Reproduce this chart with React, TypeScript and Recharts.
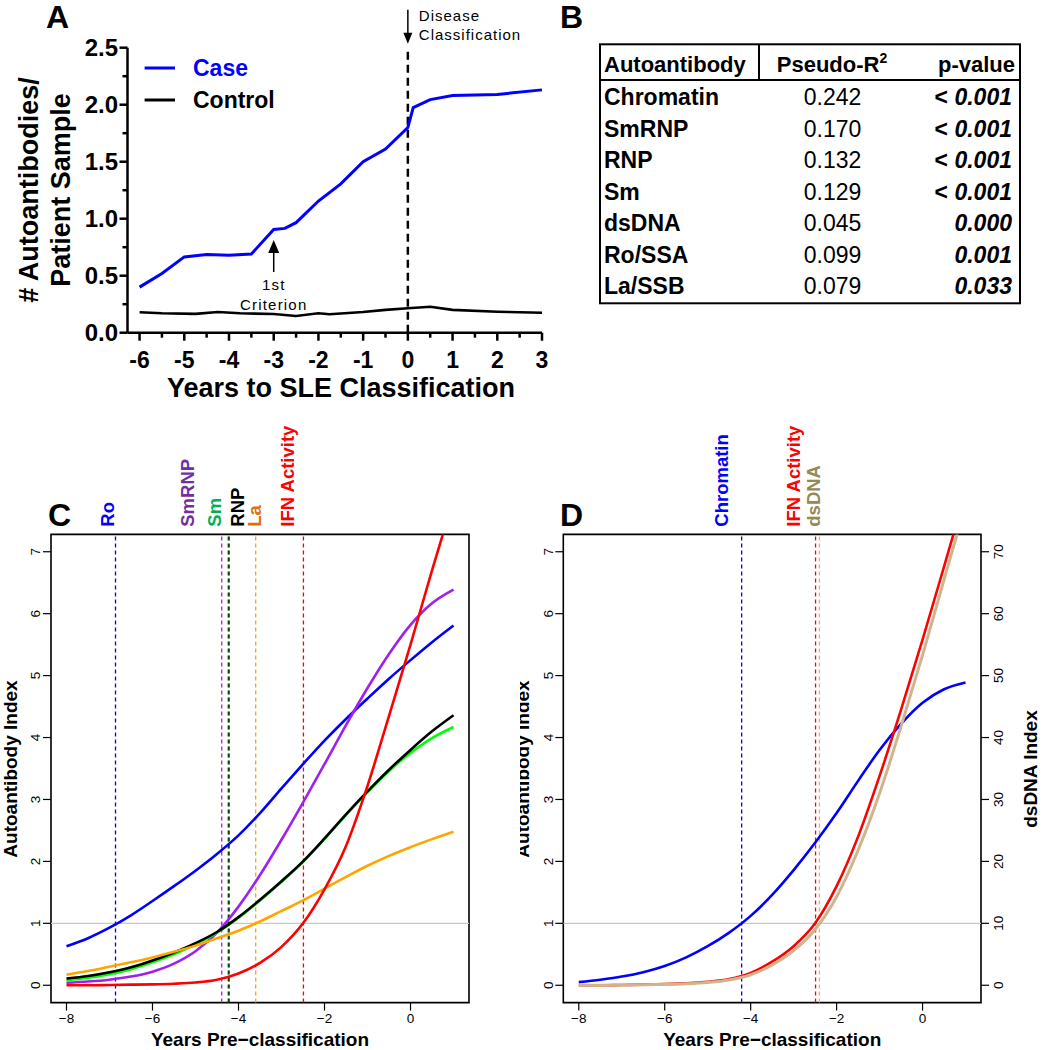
import React from "react";
import {
  LineChart,
  Line,
  XAxis,
  YAxis,
  ReferenceLine,
  ReferenceDot,
  ReferenceArea,
  Legend,
} from "recharts";

const FONT = "'Liberation Sans', Arial, Helvetica, sans-serif";

// ---- Panel A: autoantibodies per patient sample
const CASE_YEARS = [-6, -5.5, -5, -4.5, -4, -3.5, -3, -2.75, -2.5, -2, -1.5, -1, -0.5, 0, 0.12, 0.5, 1, 2, 3];
const CASE_COUNTS = [0.4, 0.52, 0.665, 0.685, 0.68, 0.69, 0.905, 0.915, 0.965, 1.155, 1.305, 1.5, 1.61, 1.8, 1.975, 2.045, 2.08, 2.09, 2.13];
const CONTROL_YEARS = [-6, -5.5, -4.75, -4.25, -3.75, -3, -2.5, -2, -1.75, -1, -0.5, 0, 0.5, 1, 2, 3];
const CONTROL_COUNTS = [0.18, 0.17, 0.165, 0.182, 0.17, 0.164, 0.146, 0.17, 0.162, 0.182, 0.2, 0.214, 0.228, 0.2, 0.184, 0.175];
const A_X_TICKS = [-6, -5.5, -5, -4.5, -4, -3.5, -3, -2.5, -2, -1.5, -1, -0.5, 0, 0.5, 1, 1.5, 2, 2.5, 3];
const A_Y_TICKS = [0, 0.25, 0.5, 0.75, 1, 1.25, 1.5, 1.75, 2, 2.25, 2.5];

// ---- Panel B: table
const TABLE_ANTIBODIES = ["Chromatin", "SmRNP", "RNP", "Sm", "dsDNA", "Ro/SSA", "La/SSB"];
const TABLE_PSEUDO_R2 = ["0.242", "0.170", "0.132", "0.129", "0.045", "0.099", "0.079"];
const TABLE_P_VALUES = ["< 0.001", "< 0.001", "< 0.001", "< 0.001", "0.000", "0.001", "0.033"];

// ---- Panels C and D: fitted curves
const FIT_YEARS = [-8, -7.5, -7, -6.5, -6, -5.5, -5, -4.5, -4, -3.5, -3, -2.5, -2, -1.5, -1, -0.5, 0, 0.5, 1];
const RO_C = [0.63, 0.76, 0.93, 1.13, 1.36, 1.6, 1.85, 2.12, 2.42, 2.78, 3.18, 3.57, 3.95, 4.3, 4.63, 4.95, 5.25, 5.54, 5.81];
const SMRNP_C = [0.04, 0.06, 0.09, 0.14, 0.22, 0.35, 0.55, 0.85, 1.27, 1.78, 2.35, 2.95, 3.57, 4.2, 4.8, 5.35, 5.82, 6.17, 6.39];
const SM_C = [0.08, 0.12, 0.18, 0.26, 0.37, 0.5, 0.66, 0.85, 1.09, 1.37, 1.67, 1.99, 2.36, 2.75, 3.12, 3.46, 3.75, 3.99, 4.17];
const RNP_C = [0.11, 0.15, 0.21, 0.29, 0.4, 0.53, 0.68, 0.86, 1.1, 1.38, 1.68, 2.0, 2.37, 2.76, 3.13, 3.48, 3.8, 4.1, 4.36];
const LA_C = [0.17, 0.23, 0.3, 0.37, 0.45, 0.54, 0.64, 0.76, 0.88, 1.03, 1.2, 1.37, 1.56, 1.75, 1.93, 2.09, 2.23, 2.36, 2.48];
const IFN_C = [0, 0, 0.005, 0.01, 0.015, 0.025, 0.045, 0.09, 0.19, 0.36, 0.62, 1.0, 1.55, 2.25, 3.22, 4.35, 5.5, 6.7, 7.85];

const CHROMATIN_D = [0.05, 0.09, 0.14, 0.21, 0.31, 0.45, 0.63, 0.85, 1.12, 1.46, 1.86, 2.3, 2.78, 3.3, 3.8, 4.22, 4.56, 4.78, 4.89];
const IFN_D = [0, 0, 0.005, 0.01, 0.02, 0.03, 0.055, 0.1, 0.2, 0.38, 0.63, 1.0, 1.6, 2.4, 3.38, 4.45, 5.58, 6.76, 7.95];
const DSDNA_D = [0, 0, 0.03, 0.08, 0.15, 0.25, 0.45, 0.85, 1.7, 3.3, 5.6, 9.0, 14.3, 21.8, 31.0, 41.8, 53.3, 65.5, 77.6];

const CD_X_TICKS = [-8, -6, -4, -2, 0];
const CD_Y_TICKS = [0, 1, 2, 3, 4, 5, 6, 7];
const DSDNA_TICKS = [0, 10, 20, 30, 40, 50, 60, 70];

// threshold crossings (dashed lines) and their labels on top
const C_MARKERS = ["Ro", "SmRNP", "Sm", "RNP", "La", "IFN Activity"];
const C_MARKER_LABEL_X = [-7.06, -5.2, -4.56, -4.03, -3.64, -2.86];
const C_MARKER_LINE_X = [-6.86, -4.39, -4.24, -4.22, -3.6, -2.49];
const C_MARKER_TEXT_COLORS = ["#0000FF", "#7030A0", "#00B050", "#000000", "#E46C0A", "#FF0000"];
const C_MARKER_LINE_COLORS = ["#0000FF", "#A020F0", "#00A000", "#000000", "#FFA500", "#FF0000"];

const D_MARKERS = ["Chromatin", "IFN Activity", "dsDNA"];
const D_MARKER_LABEL_X = [-4.68, -3.0, -2.54];
const D_MARKER_LINE_X = [-4.21, -2.49, -2.4];
const D_MARKER_TEXT_COLORS = ["#0000FF", "#FF0000", "#948A54"];
const D_MARKER_LINE_COLORS = ["#0000FF", "#FF0000", "#D2B48C"];

const CD_X_DOMAIN: [number, number] = [-8.36, 1.36];
const CD_Y_DOMAIN: [number, number] = [-0.28, 7.28];
const DSDNA_DOMAIN: [number, number] = [-2.8, 72.8];

const caseData = CASE_YEARS.map((x, i) => ({ x, y: CASE_COUNTS[i] }));
const controlData = CONTROL_YEARS.map((x, i) => ({ x, y: CONTROL_COUNTS[i] }));

const cData = FIT_YEARS.map((x, i) => ({
  x,
  ro: RO_C[i],
  smrnp: SMRNP_C[i],
  sm: SM_C[i],
  rnp: RNP_C[i],
  la: LA_C[i],
  ifn: IFN_C[i],
}));

const dData = FIT_YEARS.map((x, i) => ({
  x,
  chromatin: CHROMATIN_D[i],
  ifn: IFN_D[i],
  dsdna: DSDNA_D[i],
}));

// ---------- panel A helpers
const A_AXIS_X = 127.5;
const A_AXIS_Y = 332.7;

function ATickX(props: any) {
  const { x, payload } = props;
  const v = payload.value as number;
  const major = Number.isInteger(v);
  return (
    <g>
      <line x1={x} x2={x} y1={A_AXIS_Y} y2={A_AXIS_Y + (major ? 8 : 5)} stroke="#000" strokeWidth={2.5} />
      {major && (
        <text x={x} y={A_AXIS_Y + 35.5} textAnchor="middle" fontFamily={FONT} fontWeight="bold" fontSize={23} fill="#000">
          {v}
        </text>
      )}
    </g>
  );
}

function ATickY(props: any) {
  const { y, payload } = props;
  const v = payload.value as number;
  const major = Math.abs(v * 2 - Math.round(v * 2)) < 1e-6;
  return (
    <g>
      <line x1={A_AXIS_X - (major ? 8 : 5)} x2={A_AXIS_X} y1={y} y2={y} stroke="#000" strokeWidth={2.5} />
      {major && (
        <text x={A_AXIS_X - 9.5} y={y + 8.5} textAnchor="end" fontFamily={FONT} fontWeight="bold" fontSize={24} fill="#000">
          {v.toFixed(1)}
        </text>
      )}
    </g>
  );
}

function ALegend(props: any) {
  const items = props.payload || [];
  return (
    <svg width={170} height={70} style={{ display: "block" }}>
      {items.map((it: any, i: number) => (
        <g key={it.value}>
          <line x1={4.6} x2={35} y1={18 + i * 32} y2={18 + i * 32} stroke={it.color} strokeWidth={3} />
          <text x={53} y={26.3 + i * 32} fontFamily={FONT} fontWeight="bold" fontSize={23} fill={it.color}>
            {it.value}
          </text>
        </g>
      ))}
    </svg>
  );
}

function DiseaseMark(props: any) {
  const { cx, cy } = props;
  return (
    <g>
      <line x1={cx} x2={cx} y1={cy - 38} y2={cy - 14} stroke="#000" strokeWidth={1.5} />
      <path d={`M${cx - 4.5},${cy - 15} L${cx + 4.5},${cy - 15} L${cx},${cy - 4} Z`} fill="#000" />
      <text x={cx + 11} y={cy - 27} fontFamily={FONT} fontSize={15} letterSpacing={1} fill="#000">
        Disease
      </text>
      <text x={cx + 11} y={cy - 7.5} fontFamily={FONT} fontSize={15} letterSpacing={1} fill="#000">
        Classification
      </text>
    </g>
  );
}

function CriterionMark(props: any) {
  const { cx, cy } = props;
  return (
    <g>
      <path d={`M${cx},${cy} L${cx - 5.5},${cy + 13} L${cx + 5.5},${cy + 13} Z`} fill="#000" />
      <line x1={cx} x2={cx} y1={cy + 12} y2={cy + 32} stroke="#000" strokeWidth={1.5} />
      <text x={cx} y={cy + 50} textAnchor="middle" fontFamily={FONT} fontSize={15} letterSpacing={1.2} fill="#000">
        1st
      </text>
      <text x={cx} y={cy + 70} textAnchor="middle" fontFamily={FONT} fontSize={15} letterSpacing={1.2} fill="#000">
        Criterion
      </text>
    </g>
  );
}

function PanelA() {
  return (
    <div style={{ position: "absolute", left: 0, top: 0 }}>
      <LineChart width={560} height={420} margin={{ top: 47.7, right: 18, bottom: 0, left: 57.5 }}>
        <XAxis
          type="number"
          dataKey="x"
          domain={[-6.27, 3]}
          ticks={A_X_TICKS}
          interval={0}
          height={87.3}
          axisLine={{ stroke: "#000", strokeWidth: 2.5 }}
          tickLine={false}
          tick={ATickX}
          label={() => (
            <text x={341} y={396.7} textAnchor="middle" fontFamily={FONT} fontWeight="bold" fontSize={27} fill="#000">
              Years to SLE Classification
            </text>
          )}
        />
        <YAxis
          type="number"
          domain={[0, 2.5]}
          ticks={A_Y_TICKS}
          interval={0}
          width={70}
          axisLine={{ stroke: "#000", strokeWidth: 2.5 }}
          tickLine={false}
          tick={ATickY}
          label={() => (
            <g fontFamily={FONT} fontWeight="bold" fontSize={27} fill="#000">
              <text x={38.3} y={190} transform="rotate(-90 38.3 190)" textAnchor="middle">
                # Autoantibodies/
              </text>
              <text x={70.4} y={190} transform="rotate(-90 70.4 190)" textAnchor="middle">
                Patient Sample
              </text>
            </g>
          )}
        />
        <Legend
          layout="vertical"
          align="center"
          verticalAlign="middle"
          content={ALegend}
          wrapperStyle={{ position: "absolute", left: 140, top: 50, width: 170, height: 70, margin: 0, padding: 0 }}
        />
        <ReferenceLine x={0} stroke="#000" strokeWidth={2.5} strokeDasharray="8 5" />
        <Line data={controlData} dataKey="y" name="Control" stroke="#000000" strokeWidth={2.6} dot={false} type="linear" isAnimationActive={false} />
        <Line data={caseData} dataKey="y" name="Case" stroke="#0000FF" strokeWidth={3} dot={false} type="linear" isAnimationActive={false} />
        <ReferenceDot x={0} y={2.5} r={0} shape={DiseaseMark} />
        <ReferenceDot x={-3} y={0.813} r={0} shape={CriterionMark} />
      </LineChart>
    </div>
  );
}

// ---------- panels C / D helpers
const minusFmt = (v: number) => (v < 0 ? "\u2212" + Math.abs(v) : String(v));

function BottomTick(props: any) {
  const { x, y, payload } = props;
  return (
    <text x={x} y={y + 9.6} textAnchor="middle" fontFamily={FONT} fontSize={13.5} fill="#000">
      {minusFmt(payload.value)}
    </text>
  );
}

function LeftTick(props: any) {
  const { x, y, payload } = props;
  const bx = x + 0.5;
  return (
    <text x={bx} y={y} transform={`rotate(-90 ${bx} ${y})`} textAnchor="middle" fontFamily={FONT} fontSize={13.5} fill="#000">
      {payload.value}
    </text>
  );
}

function RightTick(props: any) {
  const { x, y, payload } = props;
  const bx = x + 11;
  return (
    <text x={bx} y={y} transform={`rotate(-90 ${bx} ${y})`} textAnchor="middle" fontFamily={FONT} fontSize={13.5} fill="#000">
      {payload.value}
    </text>
  );
}

// rotated label sitting just above the plot frame, at the reference line's x
function markerLabel(name: string, color: string) {
  return (props: any) => {
    const vb = props.viewBox || {};
    const bx = vb.x + 6.7;
    const by = vb.y - 7.7;
    return (
      <text
        x={bx}
        y={by}
        transform={`rotate(-90 ${bx} ${by})`}
        textAnchor="start"
        fontFamily={FONT}
        fontWeight="bold"
        fontSize={18.5}
        fill={color}
      >
        {name}
      </text>
    );
  };
}

function xTitle(cx: number) {
  return () => (
    <text x={cx} y={641} textAnchor="middle" fontFamily={FONT} fontWeight="bold" fontSize={19} fill="#000">
      Years Pre{"\u2212"}classification
    </text>
  );
}

function rotatedTitle(text: string, bx: number, cy: number) {
  return () => (
    <text x={bx} y={cy} transform={`rotate(-90 ${bx} ${cy})`} textAnchor="middle" fontFamily={FONT} fontWeight="bold" fontSize={19} fill="#000">
      {text}
    </text>
  );
}

const CURVE_W = 2.6;

function PanelC() {
  return (
    <div style={{ position: "absolute", left: 0, top: 405 }}>
      <LineChart width={505} height={645} data={cData} margin={{ top: 129.4, right: 36, bottom: 0, left: 11 }}>
        <XAxis
          type="number"
          dataKey="x"
          domain={CD_X_DOMAIN}
          allowDataOverflow
          ticks={CD_X_TICKS}
          interval={0}
          height={47.4}
          axisLine={false}
          tickSize={8}
          tickMargin={3}
          tickLine={{ stroke: "#000", strokeWidth: 1.2 }}
          tick={BottomTick}
          label={xTitle(260)}
        />
        <YAxis
          type="number"
          domain={CD_Y_DOMAIN}
          allowDataOverflow
          ticks={CD_Y_TICKS}
          interval={0}
          width={40}
          axisLine={false}
          tickSize={8}
          tickMargin={3}
          tickLine={{ stroke: "#000", strokeWidth: 1.2 }}
          tick={LeftTick}
          label={rotatedTitle("Autoantibody Index", 16.8, 364)}
        />
        <ReferenceLine y={1} stroke="#C8C8C8" strokeWidth={1.2} />
        {C_MARKER_LINE_X.map((x, i) => (
          <ReferenceLine key={C_MARKERS[i]} x={x} stroke={C_MARKER_LINE_COLORS[i]} strokeWidth={1.3} strokeDasharray="4 3" />
        ))}
        {C_MARKER_LABEL_X.map((x, i) => (
          <ReferenceLine
            key={"lbl-" + C_MARKERS[i]}
            x={x}
            stroke="none"
            label={markerLabel(C_MARKERS[i], C_MARKER_TEXT_COLORS[i])}
          />
        ))}
        <Line dataKey="ro" stroke="#0000FF" strokeWidth={CURVE_W} dot={false} type="monotone" isAnimationActive={false} />
        <Line dataKey="smrnp" stroke="#A020F0" strokeWidth={CURVE_W} dot={false} type="monotone" isAnimationActive={false} />
        <Line dataKey="sm" stroke="#00FF00" strokeWidth={CURVE_W} dot={false} type="monotone" isAnimationActive={false} />
        <Line dataKey="rnp" stroke="#000000" strokeWidth={CURVE_W} dot={false} type="monotone" isAnimationActive={false} />
        <Line dataKey="la" stroke="#FFA500" strokeWidth={CURVE_W} dot={false} type="monotone" isAnimationActive={false} />
        <Line dataKey="ifn" stroke="#FF0000" strokeWidth={CURVE_W} dot={false} type="monotone" isAnimationActive={false} />
        <ReferenceArea x1={CD_X_DOMAIN[0]} x2={CD_X_DOMAIN[1]} y1={CD_Y_DOMAIN[0]} y2={CD_Y_DOMAIN[1]} fill="none" stroke="#000" strokeWidth={1.6} />
      </LineChart>
    </div>
  );
}

function PanelD() {
  return (
    <div style={{ position: "absolute", left: 520, top: 405 }}>
      <LineChart width={522} height={645} data={dData} margin={{ top: 129.4, right: 11, bottom: 0, left: 3.3 }}>
        <XAxis
          type="number"
          dataKey="x"
          domain={CD_X_DOMAIN}
          allowDataOverflow
          ticks={CD_X_TICKS}
          interval={0}
          height={47.4}
          axisLine={false}
          tickSize={8}
          tickMargin={3}
          tickLine={{ stroke: "#000", strokeWidth: 1.2 }}
          tick={BottomTick}
          label={xTitle(252.2)}
        />
        <YAxis
          type="number"
          domain={CD_Y_DOMAIN}
          allowDataOverflow
          ticks={CD_Y_TICKS}
          interval={0}
          width={40}
          axisLine={false}
          tickSize={8}
          tickMargin={3}
          tickLine={{ stroke: "#000", strokeWidth: 1.2 }}
          tick={LeftTick}
          label={rotatedTitle("Autoantibody Index", 9.1, 364)}
        />
        <YAxis
          yAxisId="r"
          orientation="right"
          type="number"
          domain={DSDNA_DOMAIN}
          allowDataOverflow
          ticks={DSDNA_TICKS}
          interval={0}
          width={50}
          axisLine={false}
          tickSize={8}
          tickMargin={3}
          tickLine={{ stroke: "#000", strokeWidth: 1.2 }}
          tick={RightTick}
          label={rotatedTitle("dsDNA Index", 517, 364)}
        />
        <ReferenceLine y={1} stroke="#C8C8C8" strokeWidth={1.2} />
        {D_MARKER_LINE_X.map((x, i) => (
          <ReferenceLine key={D_MARKERS[i]} x={x} stroke={D_MARKER_LINE_COLORS[i]} strokeWidth={1.3} strokeDasharray="4 3" />
        ))}
        {D_MARKER_LABEL_X.map((x, i) => (
          <ReferenceLine
            key={"lbl-" + D_MARKERS[i]}
            x={x}
            stroke="none"
            label={markerLabel(D_MARKERS[i], D_MARKER_TEXT_COLORS[i])}
          />
        ))}
        <Line dataKey="chromatin" stroke="#0000FF" strokeWidth={CURVE_W} dot={false} type="monotone" isAnimationActive={false} />
        <Line dataKey="ifn" stroke="#FF0000" strokeWidth={CURVE_W} dot={false} type="monotone" isAnimationActive={false} />
        <Line yAxisId="r" dataKey="dsdna" stroke="#D2B48C" strokeWidth={3} dot={false} type="monotone" isAnimationActive={false} />
        <ReferenceArea x1={CD_X_DOMAIN[0]} x2={CD_X_DOMAIN[1]} y1={CD_Y_DOMAIN[0]} y2={CD_Y_DOMAIN[1]} fill="none" stroke="#000" strokeWidth={1.6} />
      </LineChart>
    </div>
  );
}

// ---------- panel B table + panel letters
function Overlay() {
  const rowY = (i: number) => 105 + i * 31.55;
  return (
    <svg width={1042} height={1050} style={{ position: "absolute", left: 0, top: 0, pointerEvents: "none" }}>
      <g fontFamily={FONT} fontWeight="bold" fontSize={32} fill="#000">
        <text x={46} y={28}>A</text>
        <text x={560} y={28}>B</text>
        <text x={48} y={526}>C</text>
        <text x={560} y={526}>D</text>
      </g>
      <g transform="translate(560,0)" fontFamily={FONT} fill="#000">
        <rect x={40} y={44.3} width={420} height={259} fill="none" stroke="#000" strokeWidth={2} />
        <line x1={40} x2={460} y1={80} y2={80} stroke="#000" strokeWidth={2} />
        <line x1={199} x2={199} y1={44.3} y2={80} stroke="#000" strokeWidth={2} />
        <text x={44} y={71.7} fontWeight="bold" fontSize={22}>Autoantibody</text>
        <text x={272} y={71.7} fontWeight="bold" fontSize={22} textAnchor="middle">
          Pseudo-R<tspan dy={-9} fontSize={14}>2</tspan>
        </text>
        <text x={455} y={71.7} fontWeight="bold" fontSize={22} textAnchor="end">p-value</text>
        {TABLE_ANTIBODIES.map((name, i) => {
          const p = TABLE_P_VALUES[i];
          const less = p.startsWith("<");
          return (
            <g key={name}>
              <text x={44} y={rowY(i)} fontWeight="bold" fontSize={23}>{name}</text>
              <text x={272.5} y={rowY(i)} fontSize={23} textAnchor="middle">{TABLE_PSEUDO_R2[i]}</text>
              <text x={452} y={rowY(i)} fontSize={23} fontWeight="bold" textAnchor="end">
                {less && <tspan>{"< "}</tspan>}
                <tspan fontStyle="italic">{less ? p.slice(2) : p}</tspan>
              </text>
            </g>
          );
        })}
      </g>
    </svg>
  );
}

export default function App() {
  return (
    <div style={{ position: "absolute", left: 0, top: 0, width: 1042, height: 1050, background: "#fff", fontFamily: FONT }}>
      <PanelA />
      <PanelC />
      <PanelD />
      <Overlay />
    </div>
  );
}
